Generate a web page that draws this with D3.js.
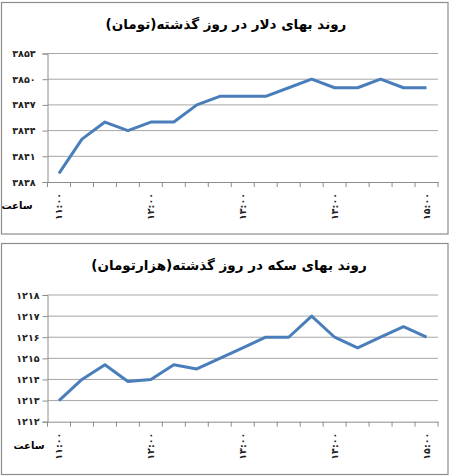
<!DOCTYPE html>
<html><head><meta charset="utf-8">
<script src="https://cdn.jsdelivr.net/npm/d3@7"></script>
<style>body{margin:0;background:#fff}svg{display:block}</style>
</head><body>
<svg id="c" width="450" height="476"></svg>
<script>
const categories = ["۱۱:۰۰","","","","۱۲:۰۰","","","","۱۳:۰۰","","","","۱۴:۰۰","","","","۱۵:۰۰"];
const dollarTitle = "روند بهای دلار در روز گذشته(تومان)";
const dollarValues = [3839,3843,3845,3844,3845,3845,3847,3848,3848,3848,3849,3850,3849,3849,3850,3849,3849];
const dollarTicks = [3838,3841,3844,3847,3850,3853];
const coinTitle = "روند بهای سکه در روز گذشته(هزارتومان)";
const coinValues = [1213,1214,1214.7,1213.9,1214,1214.7,1214.5,1215,1215.5,1216,1216,1217,1216,1215.5,1216,1216.5,1216];
const coinTicks = [1212,1213,1214,1215,1216,1217,1218];
const xAxisName = "ساعت";

const fa = s => String(s).replace(/\d/g, c => "۰۱۲۳۴۵۶۷۸۹"[+c]);
const svg = d3.select("#c");
const FONT = "DejaVu Sans";

function drawChart(cfg) {
  const g = svg.append("g");
  g.append("rect").attr("x", cfg.box[0]).attr("y", cfg.box[1])
    .attr("width", cfg.box[2]).attr("height", cfg.box[3])
    .attr("fill", "#fff").attr("stroke", "#8c8c8c").attr("stroke-width", 1.2);
  g.append("text").attr("x", cfg.titleX).attr("y", cfg.titleY)
    .attr("text-anchor", "middle").attr("direction", "rtl")
    .attr("font-family", FONT).attr("font-weight", "bold").attr("font-size", 13.5)
    .attr("fill", "#000").text(cfg.title);

  const x = d3.scaleBand().domain(d3.range(categories.length)).range([cfg.left, cfg.right]);
  const y = d3.scaleLinear().domain([cfg.ticks[0], cfg.ticks[cfg.ticks.length - 1]]).range([cfg.bottom, cfg.top]);

  // gridlines
  g.append("g").selectAll("line").data(cfg.ticks.slice(1)).join("line")
    .attr("x1", cfg.left).attr("x2", cfg.right)
    .attr("y1", d => y(d)).attr("y2", d => y(d))
    .attr("stroke", "#a6a6a6").attr("stroke-width", 1);

  // y axis
  const ya = g.append("g").attr("transform", `translate(${cfg.left},0)`)
    .call(d3.axisLeft(y).tickValues(cfg.ticks).tickSize(5).tickPadding(cfg.labelPad).tickFormat(fa));
  ya.select(".domain").attr("stroke", "#8c8c8c");
  ya.selectAll(".tick line").attr("stroke", "#8c8c8c");
  ya.selectAll("text").attr("font-family", FONT).attr("font-size", 9.5).attr("font-weight", "bold")
    .attr("letter-spacing", 2).attr("fill", "#222");

  // x axis
  const xa = g.append("g").attr("transform", `translate(0,${cfg.bottom})`)
    .call(d3.axisBottom(x).tickSize(0).tickFormat(""));
  xa.select(".domain").attr("stroke", "#8c8c8c");
  const edges = d3.range(categories.length + 1).map(i => cfg.left + i * x.bandwidth());
  xa.append("g").selectAll("line").data(edges).join("line")
    .attr("x1", d => d).attr("x2", d => d).attr("y1", 0).attr("y2", 5)
    .attr("stroke", "#8c8c8c");
  xa.append("g").selectAll("text").data(categories.map((c, i) => ({c, i})).filter(d => d.c)).join("text")
    .attr("transform", d => `translate(${x(d.i) + x.bandwidth() / 2 + 3},11) rotate(-90)`)
    .attr("text-anchor", "end").attr("font-family", FONT).attr("font-size", 9.5)
    .attr("font-weight", "bold").attr("fill", "#222").text(d => d.c);

  g.append("text").attr("x", cfg.axisNameX).attr("y", cfg.bottom + 27)
    .attr("text-anchor", "middle").attr("font-family", FONT).attr("font-weight", "bold")
    .attr("font-size", 10).attr("fill", "#000").text(xAxisName);

  const line = d3.line().x((d, i) => x(i) + x.bandwidth() / 2).y(d => y(d));
  g.append("path").datum(cfg.values).attr("d", line)
    .attr("fill", "none").attr("stroke", "#4a7ebb").attr("stroke-width", 3)
    .attr("stroke-linejoin", "round");
}

drawChart({box:[1.5,2.5,446.5,231.5], title:dollarTitle, titleX:226, titleY:29,
  left:47.5, right:438, top:53.5, bottom:182, ticks:dollarTicks, values:dollarValues,
  labelPad:7, axisNameX:17});
drawChart({box:[1.5,243.5,446.5,231], title:coinTitle, titleX:229, titleY:270,
  left:47.5, right:438, top:295, bottom:421.7, ticks:coinTicks, values:coinValues,
  labelPad:3, axisNameX:29});
</script>
</body></html>
